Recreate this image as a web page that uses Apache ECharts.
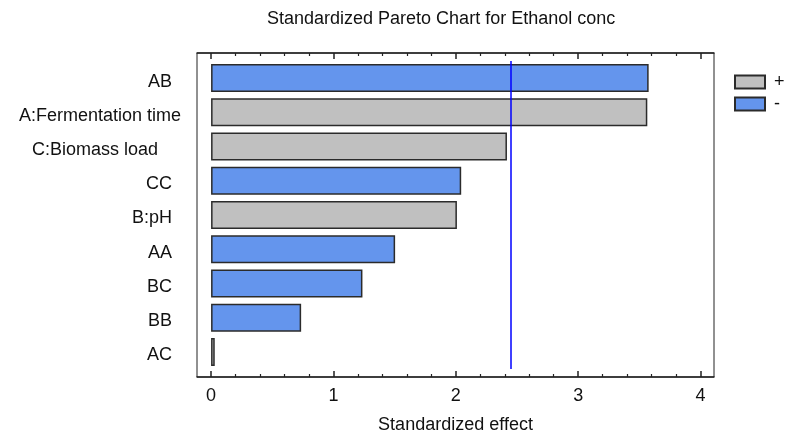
<!DOCTYPE html>
<html>
<head>
<meta charset="utf-8">
<script src="https://cdn.jsdelivr.net/npm/echarts@6/dist/echarts.min.js"></script>
<style>html,body{margin:0;padding:0;background:#fff}#c{width:785px;height:434px}</style>
</head>
<body>
<div id="c"></div>
<script>
const categories = ['AB','A:Fermentation time','C:Biomass load','CC','B:pH','AA','BC','BB','AC'];
const effects    = [3.576, 3.565, 2.418, 2.044, 2.009, 1.504, 1.237, 0.736, 0.03];
const signs      = ['-','+','+','-','+','-','-','-','+'];
const critical   = 2.447;
const majorTicks = [0, 1, 2, 3, 4];
const minorTicks = [0.2,0.4,0.6,0.8,1.2,1.4,1.6,1.8,2.2,2.4,2.6,2.8,3.2,3.4,3.6,3.8];
const xMin = -0.115, xMax = 4.11;

const FONT = '"Liberation Sans", Arial, sans-serif';
const plusData  = effects.map((v,i)=> signs[i]==='+' ? v : null);
const minusData = effects.map((v,i)=> signs[i]==='-' ? v : null);

const chart = echarts.init(document.getElementById('c'), null, {renderer:'canvas'});
const gridPos = {left:197, right:71, top:53, bottom:57, outerBoundsMode:'none', containLabel:false};
const barStyle = (c)=>({color:c, borderColor:'#2b2b2b', borderWidth:1.5});
const FS = 18;

chart.setOption({
  animation:false,
  backgroundColor:'#fff',
  title:{text:'Standardized Pareto Chart for Ethanol conc', left:262, top:5,
    textStyle:{fontFamily:FONT, fontSize:18, fontWeight:'normal', color:'#111'}},
  legend:{orient:'vertical', left:734, top:73, padding:0, itemWidth:30, itemHeight:13, itemGap:4,
    icon:'rect', data:['+','-'],
    textStyle:{fontFamily:FONT, fontSize:FS, color:'#111', padding:[0,0,0,4]}},
  grid:[
    Object.assign({show:true, borderColor:'#222', borderWidth:1}, gridPos),
    {left:197, right:71, top:61, bottom:65, outerBoundsMode:'none', containLabel:false},
    Object.assign({}, gridPos)
  ],
  xAxis:[
    {gridIndex:0, type:'value', min:xMin, max:xMax, position:'bottom',
     axisLine:{show:true, lineStyle:{color:'#222', width:1.5}},
     axisTick:{show:true, inside:true, length:6, customValues:majorTicks, lineStyle:{color:'#222', width:1.5}},
     axisLabel:{customValues:majorTicks, margin:10, fontFamily:FONT, fontSize:FS, color:'#111'},
     splitLine:{show:false},
     name:'Standardized effect', nameLocation:'middle', nameGap:39,
     nameTextStyle:{fontFamily:FONT, fontSize:FS, color:'#111'}},
    {gridIndex:0, type:'value', min:xMin, max:xMax, position:'top',
     axisLine:{show:true, lineStyle:{color:'#222', width:1.5}},
     axisTick:{show:true, inside:true, length:6, customValues:majorTicks, lineStyle:{color:'#222', width:1.5}},
     axisLabel:{show:false}, splitLine:{show:false}},
    {gridIndex:1, type:'value', min:xMin, max:xMax, show:false, splitLine:{show:false}},
    {gridIndex:2, type:'value', min:xMin, max:xMax, position:'bottom',
     axisLine:{show:false},
     axisTick:{show:true, inside:true, length:3, customValues:minorTicks, lineStyle:{color:'#222', width:1.2}},
     axisLabel:{show:false}, splitLine:{show:false}},
    {gridIndex:2, type:'value', min:xMin, max:xMax, position:'top',
     axisLine:{show:false},
     axisTick:{show:true, inside:true, length:3, customValues:minorTicks, lineStyle:{color:'#222', width:1.2}},
     axisLabel:{show:false}, splitLine:{show:false}}
  ],
  yAxis:[
    {gridIndex:0, type:'value', show:false, splitLine:{show:false}},
    {gridIndex:1, type:'category', data:categories, inverse:true,
     axisLine:{show:false}, axisTick:{show:false}, splitLine:{show:false},
     axisLabel:{margin:16, fontFamily:FONT, fontSize:FS, color:'#111',
       formatter:(v)=> v==='A:Fermentation time' ? '{f|'+v+'}' : (v==='C:Biomass load' ? '{c|'+v+'}' : '{n|'+v+'}'),
       rich:{
         n:{fontFamily:FONT, fontSize:FS, color:'#111', padding:[7,9,0,0]},
         f:{fontFamily:FONT, fontSize:FS, color:'#111', padding:[7,0,0,0]},
         c:{fontFamily:FONT, fontSize:FS, color:'#111', padding:[7,23,0,0]}
       }}},
    {gridIndex:2, type:'value', show:false, splitLine:{show:false}}
  ],
  series:[
    {name:'+', type:'bar', xAxisIndex:2, yAxisIndex:1, data:plusData, barWidth:28, barGap:'-100%',
     itemStyle:barStyle('#c0c0c0')},
    {name:'-', type:'bar', xAxisIndex:2, yAxisIndex:1, data:minusData, barWidth:28, barGap:'-100%',
     itemStyle:barStyle('#6495ed'),
     markLine:{silent:true, symbol:['none','none'], label:{show:false},
       lineStyle:{color:'#0000ff', width:1.5, type:'solid'},
       data:[{xAxis:critical}]}}
  ]
});
</script>
</body>
</html>
